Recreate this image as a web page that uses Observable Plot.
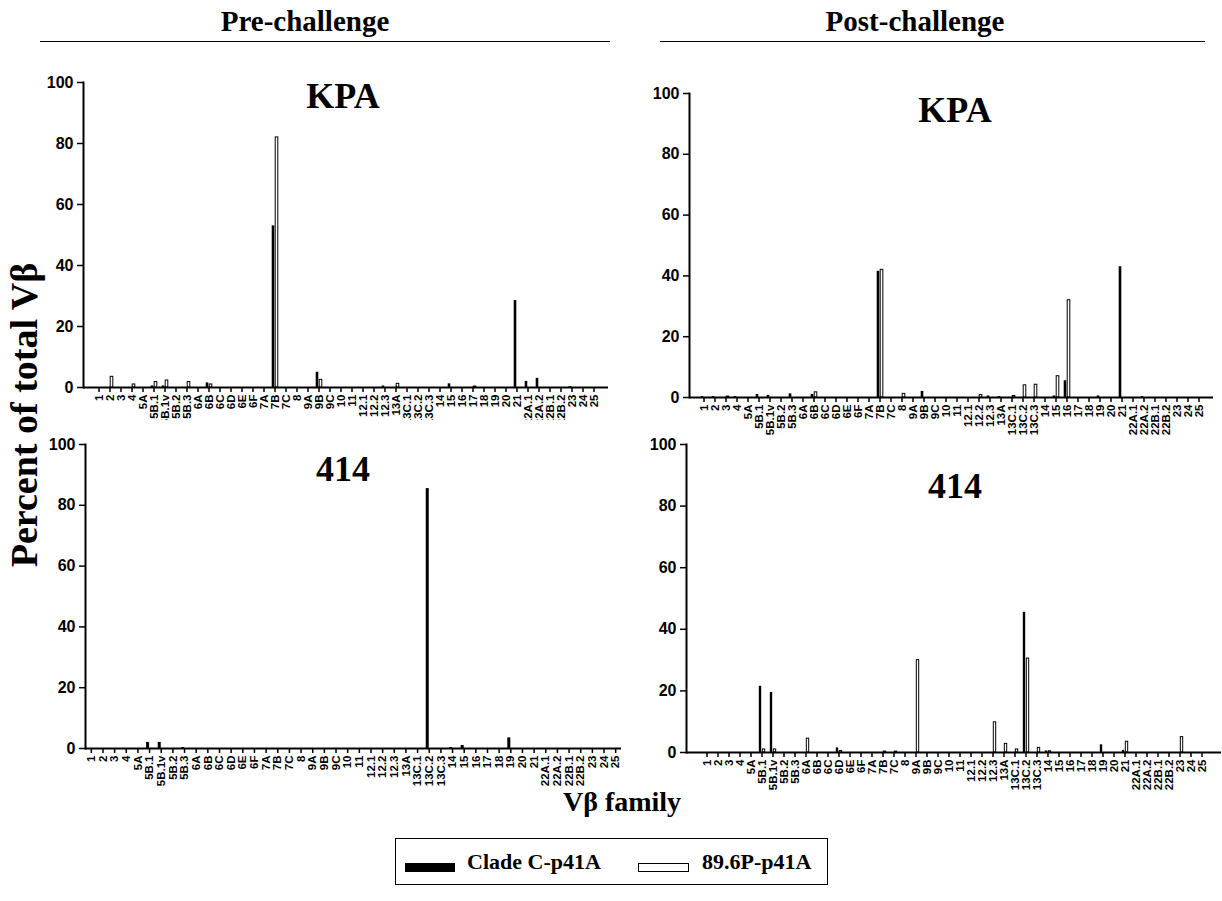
<!DOCTYPE html>
<html><head><meta charset="utf-8">
<script src="https://cdn.jsdelivr.net/npm/d3@7"></script>
<script src="https://cdn.jsdelivr.net/npm/@observablehq/plot@0.6"></script>
<style>
body{margin:0;background:#fff;}
#fig{position:relative;width:1222px;height:901px;overflow:hidden;background:#fff;font-family:"Liberation Serif","Times New Roman",serif;color:#000;}
.abs{position:absolute;white-space:nowrap;}
.hdr{font-weight:bold;font-size:29px;transform:translateX(-50%);top:5px;}
.hline{height:0;border-top:1.5px solid #000;top:41px;}
.ptitle{font-weight:bold;font-size:36px;line-height:1;transform:translateX(-50%);}
.ylab{font-weight:bold;font-size:38px;line-height:1;transform:translate(-50%,-50%) rotate(-90deg);}
.xlab{font-weight:bold;font-size:28px;transform:translate(-50%,-50%);}
#legend{left:395px;top:838px;width:431px;height:45px;border:1.5px solid #000;}
.sw{position:absolute;height:9px;top:24px;}
.lt{position:absolute;font-weight:bold;font-size:22px;top:12px;line-height:1;}
</style>
</head><body>
<div id="fig"></div>
<script>
const categories = ["1","2","3","4","5A","5B.1","5B.1v","5B.2","5B.3","6A","6B","6C","6D","6E","6F","7A","7B","7C","8","9A","9B","9C","10","11","12.1","12.2","12.3","13A","13C.1","13C.2","13C.3","14","15","16","17","18","19","20","21","22A.1","22A.2","22B.1","22B.2","23","24","25"];

const kpaPreClade = [0,0,0,0,0, 0.5,0.5,0,0,0, 1.5,0,0,0,0, 0,53,0,0,0, 5,0,0,0,0, 0,0.5,0,0,0, 0,0,1.2,0,0, 0,0,0,28.5,2, 3,0,0,0.3,0, 0];
const kpaPre896   = [0,3.5,0,1,0, 1.8,2.3,0,1.8,0, 1,0,0,0,0, 0,82,0,0,0, 2.5,0,0,0,0, 0,0,1.2,0,0, 0,0,0,0,0.3, 0,0,0,0,0, 0,0,0,0,0, 0];
const kpaPostClade = [0.3,0.3,0,0.3,0, 1,0.7,0,1.2,0, 1,0,0,0,0, 0,41.5,0,0,0, 2,0,0,0,0, 0,0.5,0.3,0,0, 0,0,0.5,5.5,0, 0,0.5,0,43,0, 0.3,0,0,0,0, 0];
const kpaPost896   = [0,0,0.3,0,0, 0,0,0,0,0, 1.7,0,0,0,0, 0,42,0,1.2,0, 0,0,0,0,0, 0.8,0,0,0.5,4, 4.2,0,7,32,0, 0,0,0,0,0, 0,0,0,0,0, 0];
const p414PreClade = [0,0,0,0,0, 2,2,0,0.3,0, 0,0,0,0,0, 0,0,0,0,0, 0,0,0,0,0, 0,0,0,0,85.5, 0,0.3,1,0,0, 0,3.5,0,0,0, 0,0,0,0,0, 0];
const p414Pre896   = [0,0,0,0,0, 0,0,0,0,0, 0,0,0,0,0, 0,0,0,0,0, 0,0,0,0,0, 0,0,0,0,0, 0,0,0,0,0, 0,0,0,0,0, 0,0,0,0,0, 0];
const p414PostClade = [0,0,0,0,0, 21.5,19.5,0,0,0, 0,0,1.5,0,0, 0,0,0,0,0, 0,0,0,0,0, 0,0,0,0,45.5, 0,0.5,0,0,0, 0,2.5,0,0.7,0, 0,0,0,0,0, 0];
const p414Post896   = [0,0,0,0,0, 1,1,0,0,4.5, 0,0,0.5,0,0, 0,0.3,0.3,0,30, 0,0,0,0,0, 0,9.8,2.8,1,30.5, 1.5,0.4,0,0,0, 0,0,0,3.5,0, 0,0,0,5,0, 0];

const yTicks = [0,20,40,60,80,100];
const headers = ["Pre-challenge","Post-challenge"];
const panelTitles = ["KPA","KPA","414","414"];
const seriesNames = ["Clade C-p41A","89.6P-p41A"];
const yTitle = "Percent of total Vβ";
const xTitle = "Vβ family";

const fig = document.getElementById("fig");
function addDiv(cls, text, css){
  const d = document.createElement("div");
  d.className = "abs " + cls;
  if (text != null) d.textContent = text;
  Object.assign(d.style, css);
  fig.appendChild(d);
  return d;
}

addDiv("hdr", headers[0], {left:"305px"});
addDiv("hdr", headers[1], {left:"915px"});
addDiv("hline", null, {left:"40px", width:"570px"});
addDiv("hline", null, {left:"660px", width:"545px"});

function panel(clade, p896, box, title, titlePos, mT, bg){
  const mL=50, mR=2, mB=55;
  const W = box.right - box.left, H = box.bottom - box.top;
  const bw = W / categories.length;
  const rows = categories.map((c,i)=>({cat:c, clade:clade[i], p896:p896[i]}));
  const svg = Plot.plot({
    width: W+mL+mR, height: H+mT+mB,
    marginLeft:mL, marginRight:mR, marginTop:mT, marginBottom:mB,
    x: {type:"band", domain:categories, padding:0},
    y: {domain:[0,100]},
    style: {background:bg, color:"#000", fontFamily:"'Liberation Sans', Arial, sans-serif", overflow:"visible"},
    marks: [
      Plot.barY(rows.filter(d=>d.clade>0), {x:"cat", y:"clade", fill:"#000", insetLeft:bw/2-3, insetRight:bw/2}),
      Plot.barY(rows.filter(d=>d.p896>0), {x:"cat", y:"p896", fill:"#fff", stroke:"#000", strokeWidth:1, insetLeft:bw/2+0.5, insetRight:bw/2-3.5}),
      Plot.ruleY([0], {stroke:"#000", strokeWidth:2}),
      Plot.frame({anchor:"left", stroke:"#000", strokeWidth:2}),
      Plot.axisY({ticks:yTicks, tickSize:6, tickPadding:4, fontSize:16, fontWeight:"bold", label:null, strokeWidth:1.5}),
      Plot.axisX({tickSize:5, tickRotate:-90, tickPadding:2, fontSize:11.5, fontWeight:"bold", label:null, strokeWidth:1.5})
    ]
  });
  svg.style.position = "absolute";
  svg.style.left = (box.left - mL) + "px";
  svg.style.top = (box.top - mT) + "px";
  fig.appendChild(svg);
  addDiv("ptitle", title, {left:titlePos[0]+"px", top:titlePos[1]+"px"});
}

panel(kpaPreClade, kpaPre896, {left:83, right:608, top:82, bottom:387}, panelTitles[0], [343, 78], 8, "transparent");
panel(kpaPostClade, kpaPost896, {left:689, right:1213, top:93, bottom:397}, panelTitles[1], [955, 92], 8, "transparent");
panel(p414PreClade, p414Pre896, {left:85, right:621, top:444, bottom:748}, panelTitles[2], [343, 451], 24, "#fff");
panel(p414PostClade, p414Post896, {left:686, right:1221, top:444, bottom:752}, panelTitles[3], [955, 468], 8, "transparent");

addDiv("ylab", yTitle, {left:"24px", top:"415px"});
addDiv("xlab", xTitle, {left:"622px", top:"802px"});

const lg = addDiv("", null, {});
lg.id = "legend";
const s1 = document.createElement("div"); s1.className="sw"; Object.assign(s1.style,{left:"9px",width:"50px",background:"#000"}); lg.appendChild(s1);
const t1 = document.createElement("div"); t1.className="lt"; t1.textContent=seriesNames[0]; t1.style.left="71px"; lg.appendChild(t1);
const s2 = document.createElement("div"); s2.className="sw"; Object.assign(s2.style,{left:"242px",width:"49px",height:"7px",border:"1.5px solid #000",background:"#fff"}); lg.appendChild(s2);
const t2 = document.createElement("div"); t2.className="lt"; t2.textContent=seriesNames[1]; t2.style.left="306px"; lg.appendChild(t2);
</script>
</body></html>
